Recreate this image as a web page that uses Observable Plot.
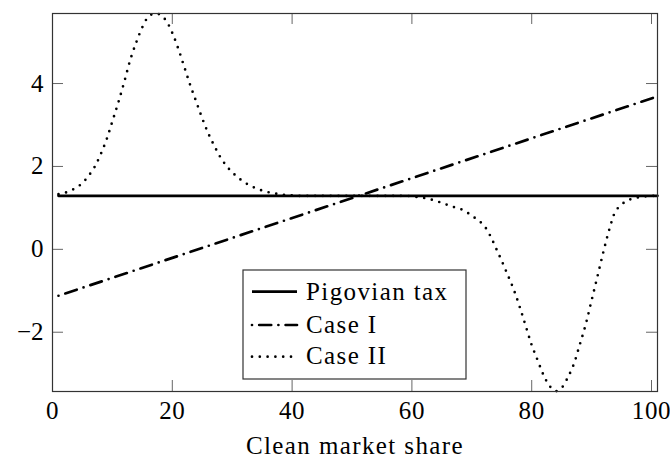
<!DOCTYPE html>
<html><head><meta charset="utf-8">
<script src="https://cdn.jsdelivr.net/npm/d3@7"></script>
<script src="https://cdn.jsdelivr.net/npm/@observablehq/plot@0.6"></script>
<style>
body{margin:0;background:#fff;}
#wrap{position:relative;width:670px;height:461px;}
#wrap svg g[aria-label="text"] text{letter-spacing:1.4px;}
#wrap svg g[aria-label="x-axis tick label"] text{letter-spacing:0.6px;}
#legend{position:absolute;left:0;top:0;}
</style></head><body><div id="wrap"></div>
<script>
// ---- data ----
const xTicks = [0, 20, 40, 60, 80, 100];
const yTicks = [-2, 0, 2, 4];
const xLabel = "Clean market share";
const seriesNames = ["Pigovian tax", "Case I", "Case II"];

const pigovianX = [1, 101];
const pigovianY = [1.29, 1.29];

const caseIX = [1, 101];
const caseIY = [-1.12, 3.69];

const caseIIX = [1,2,3,4,5,6,7,8,9,10,11,12,13,14,15,16,17,18,19,20,21,22,23,24,25,26,27,28,29,30,
  31,32,33,34,35,36,37,38,39,40,41,42,43,44,45,46,47,48,49,50,51,52,53,54,55,56,57,58,59,60,
  61,62,63,64,65,66,67,68,69,70,71,72,73,74,75,76,77,78,79,80,81,82,83,84,85,86,87,88,89,90,
  91,92,93,94,95,96,97,98,99,100,101];
const caseIIY = [1.33,1.36,1.42,1.49,1.60,1.77,1.98,2.28,2.64,3.09,3.55,4.05,4.58,5.00,5.36,5.61,5.69,5.66,5.51,5.22,
  4.84,4.40,3.96,3.56,3.16,2.80,2.50,2.23,2.02,1.86,1.73,1.62,1.54,1.47,1.42,1.38,1.35,1.33,1.31,1.30,
  1.29,1.29,1.29,1.29,1.29,1.29,1.29,1.29,1.29,1.29,1.29,1.29,1.29,1.29,1.29,1.29,1.29,1.29,1.29,1.28,
  1.26,1.24,1.21,1.17,1.12,1.07,1.02,0.98,0.91,0.81,0.71,0.58,0.35,0.04,-0.28,-0.62,-0.97,-1.39,-1.85,-2.31,
  -2.68,-3.04,-3.30,-3.42,-3.34,-3.10,-2.78,-2.31,-1.82,-1.23,-0.64,-0.04,0.50,0.92,1.08,1.18,1.23,1.26,1.28,1.29,1.29];

// ---- tables ----
const pig = pigovianX.map((x, i) => ({x, y: pigovianY[i]}));
const c1 = caseIX.map((x, i) => ({x, y: caseIY[i]}));
const c2 = caseIIX.map((x, i) => ({x, y: caseIIY[i]}));

const W = 670, H = 461, mL = 52, mR = 13, mT = 13, mB = 70;
const pw = W - mL - mR, ph = H - mT - mB;
const FONT = "'Liberation Serif', 'Times New Roman', serif";
const FS = 25;

const dotDash = "0 7.8";
const dashDot = "0 7.2 12 7.2";

const chart = Plot.plot({
  width: W, height: H,
  marginLeft: mL, marginRight: mR, marginTop: mT, marginBottom: mB,
  style: {fontFamily: FONT, fontSize: FS + "px", color: "#000", background: "#fff"},
  x: {domain: [0, 101]},
  y: {domain: [-3.43, 5.69]},
  marks: [
    Plot.axisX(xTicks, {tickSize: 0, tickPadding: 10, label: null, fontSize: FS, fontFamily: FONT}),
    Plot.axisY(yTicks, {tickSize: 0, tickPadding: 9, label: null, fontSize: FS, fontFamily: FONT}),
    Plot.tickX(xTicks, {x: d => d, stroke: "#666", strokeWidth: 1, insetTop: ph - 11}),
    Plot.tickX(xTicks, {x: d => d, stroke: "#666", strokeWidth: 1, insetBottom: ph - 11}),
    Plot.tickY(yTicks, {y: d => d, stroke: "#666", strokeWidth: 1, insetRight: pw - 11}),
    Plot.tickY(yTicks, {y: d => d, stroke: "#666", strokeWidth: 1, insetLeft: pw - 11}),
    Plot.line(c2, {x: "x", y: "y", curve: "catmull-rom", stroke: "#000", strokeWidth: 2.7, strokeLinecap: "round", strokeDasharray: dotDash}),
    Plot.line(c1, {x: "x", y: "y", stroke: "#000", strokeWidth: 2.7, strokeLinecap: "round", strokeDasharray: dashDot}),
    Plot.line(pig, {x: "x", y: "y", stroke: "#000", strokeWidth: 2.7}),
    Plot.frame({stroke: "#333", strokeWidth: 1.2}),
    Plot.text([xLabel], {text: d => d, frameAnchor: "bottom", dy: 62, fontSize: FS, fontFamily: FONT, fill: "#000"})
  ]
});
const wrap = document.getElementById("wrap");
wrap.appendChild(chart);

// ---- legend overlay ----
const ns = "http://www.w3.org/2000/svg";
const lg = document.createElementNS(ns, "svg");
lg.setAttribute("id", "legend");
lg.setAttribute("width", W); lg.setAttribute("height", H);
const box = {x: 243, y: 270, w: 223, h: 109};
const rows = [
  {name: seriesNames[0], dash: null, ly: 291.7, ty: 299.5},
  {name: seriesNames[1], dash: dashDot, ly: 325, ty: 332.8},
  {name: seriesNames[2], dash: dotDash, ly: 356.7, ty: 364.3}
];
let html = `<rect x="${box.x}" y="${box.y}" width="${box.w}" height="${box.h}" fill="#fff" stroke="#333" stroke-width="1.2"/>`;
for (const r of rows) {
  html += `<line x1="252" x2="297" y1="${r.ly}" y2="${r.ly}" stroke="#000" stroke-width="2.7" ${r.dash ? `stroke-dasharray="${r.dash}" stroke-linecap="round"` : ""}/>`;
  html += `<text x="306" y="${r.ty}" font-family="Liberation Serif, Times New Roman, serif" font-size="${FS}" fill="#000" style="letter-spacing:1.4px">${r.name}</text>`;
}
lg.innerHTML = html;
wrap.appendChild(lg);
</script>
</body></html>
